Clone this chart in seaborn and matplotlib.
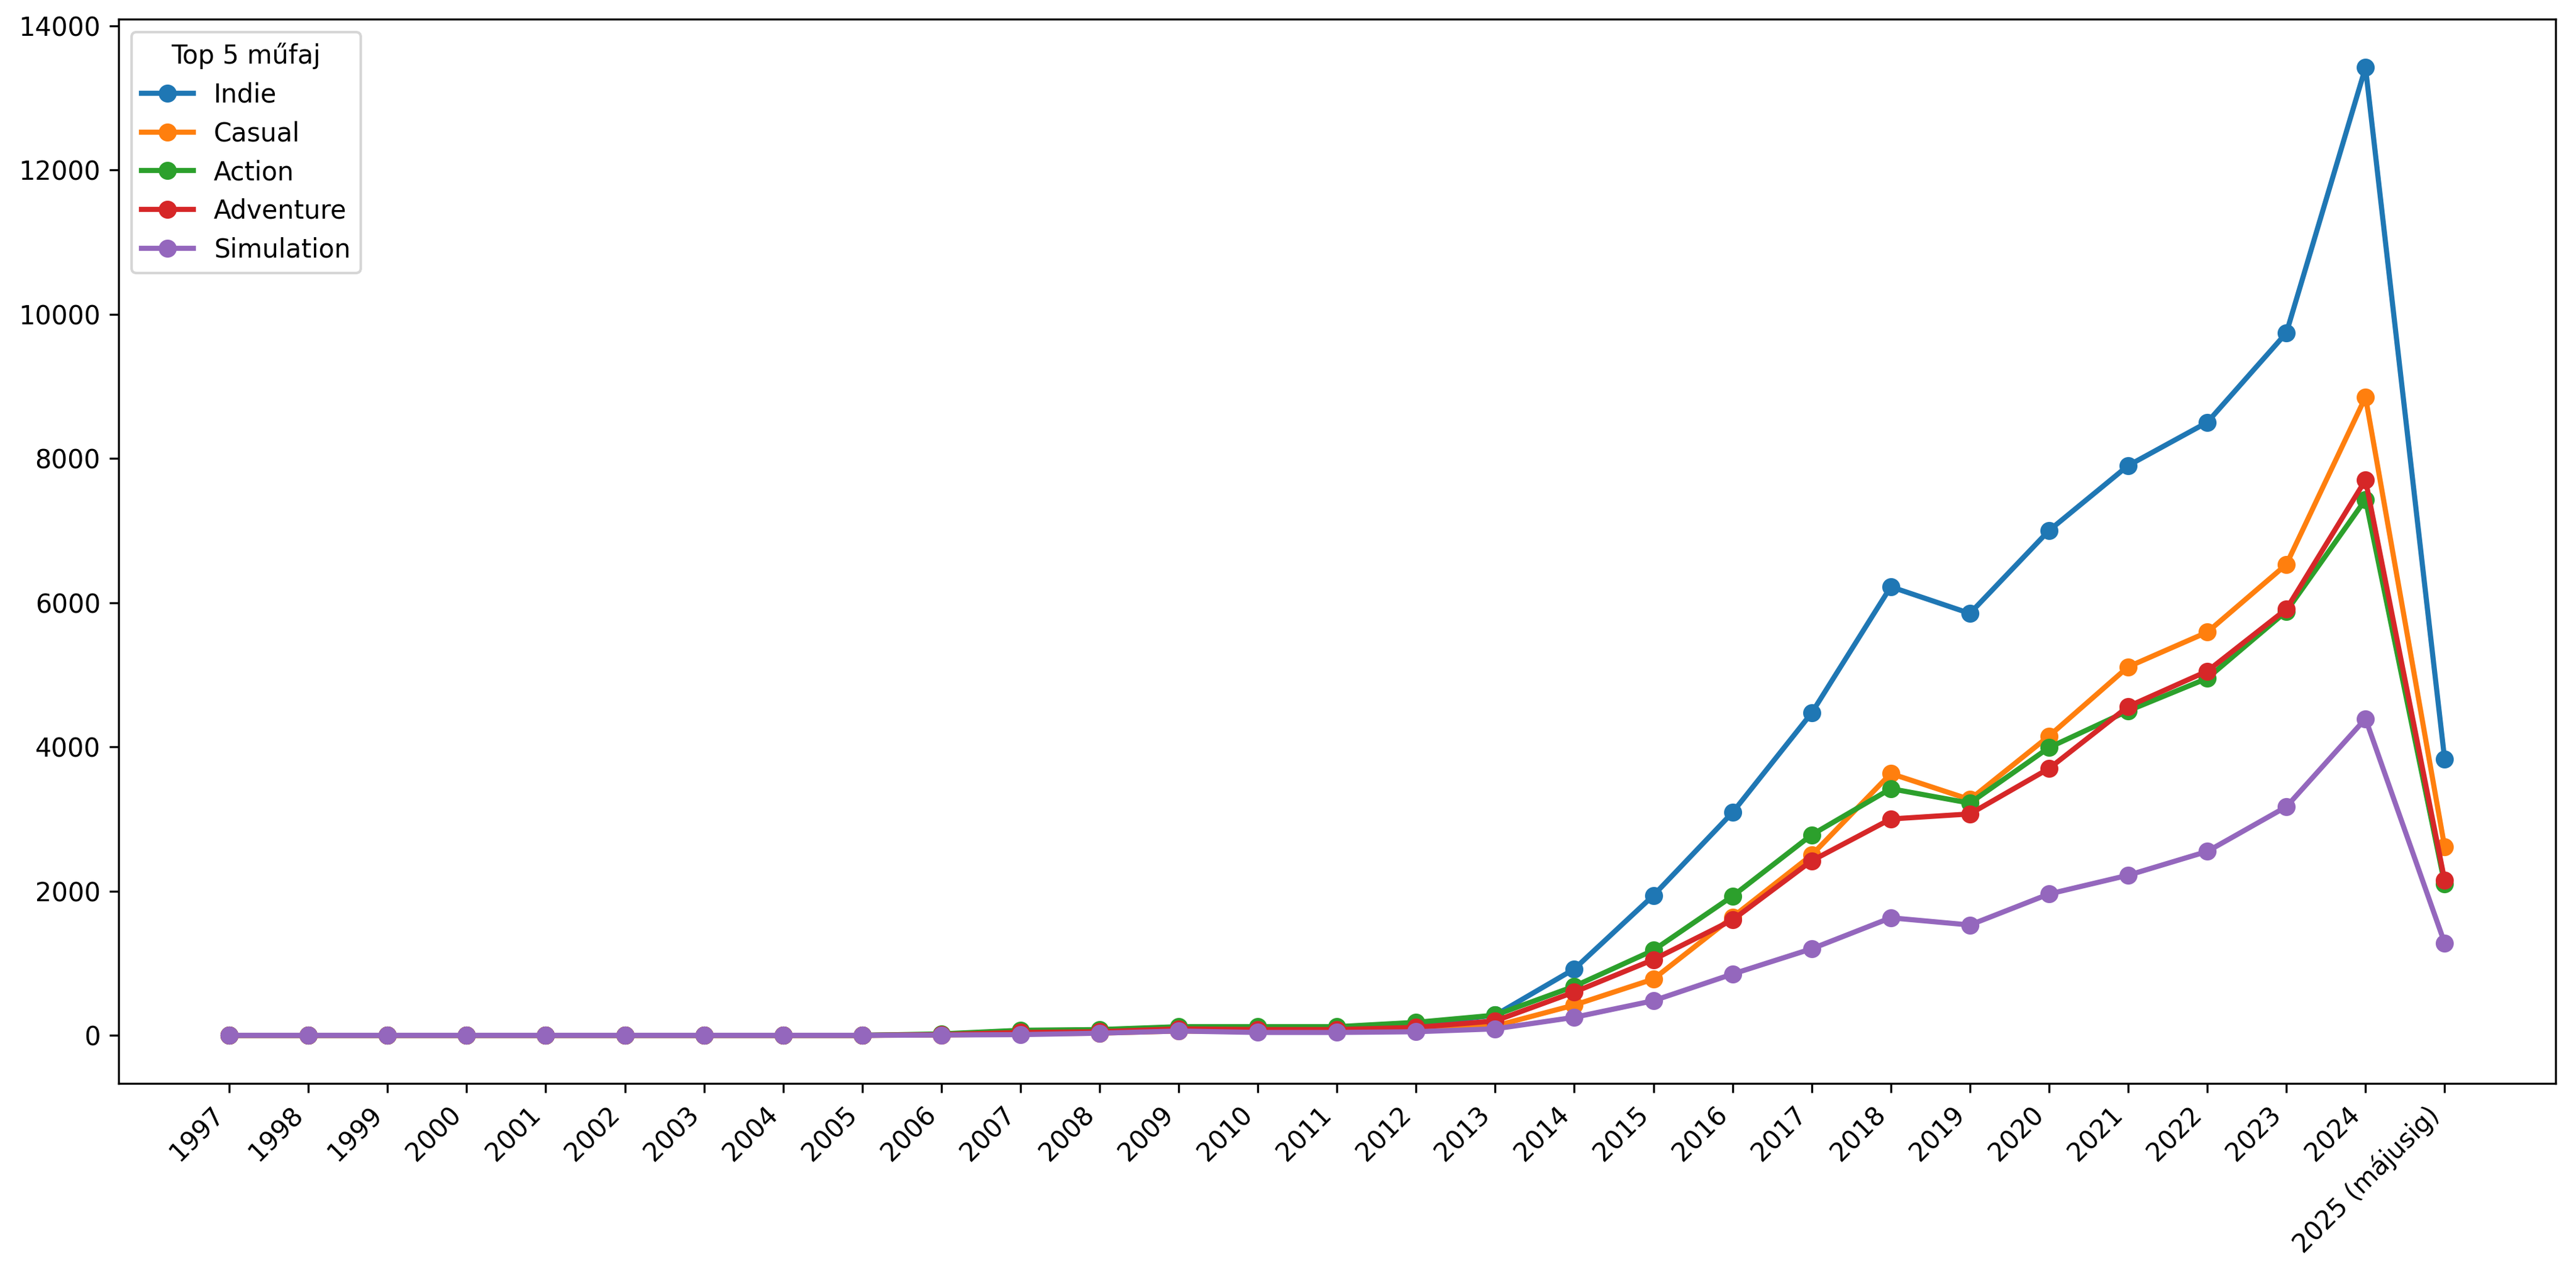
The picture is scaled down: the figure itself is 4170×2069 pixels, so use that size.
import matplotlib
matplotlib.use('Agg')
import matplotlib.pyplot as plt
import pandas as pd
import seaborn as sns

# évek (x tengely)
years = [str(y) for y in range(1997, 2025)] + ['2025 (májusig)']

# megjelenések száma műfajonként
indie = [0, 0, 0, 0, 0, 0, 0, 0, 0, 10, 50, 60, 100, 100, 100, 150, 280,
         920, 1940, 3090, 4470, 6220, 5850, 7000, 7900, 8500, 9740, 13420, 3830]
casual = [0, 0, 0, 0, 0, 0, 0, 0, 0, 5, 20, 30, 60, 50, 50, 70, 130,
          420, 780, 1640, 2500, 3630, 3270, 4150, 5110, 5590, 6530, 8850, 2610]
action = [0, 0, 0, 0, 0, 0, 0, 0, 0, 20, 70, 80, 120, 120, 120, 180, 280,
          680, 1180, 1930, 2780, 3420, 3220, 3990, 4500, 4950, 5880, 7430, 2100]
adventure = [0, 0, 0, 0, 0, 0, 0, 0, 0, 10, 40, 50, 90, 80, 80, 110, 200,
             600, 1050, 1600, 2420, 3000, 3070, 3700, 4560, 5050, 5910, 7700, 2150]
simulation = [0, 0, 0, 0, 0, 0, 0, 0, 0, 5, 10, 30, 60, 40, 40, 50, 90,
              250, 480, 850, 1200, 1630, 1530, 1960, 2220, 2550, 3170, 4390, 1280]

genres = ['Indie', 'Casual', 'Action', 'Adventure', 'Simulation']
series = [indie, casual, action, adventure, simulation]

# long formátum
rows = []
for g, vals in zip(genres, series):
    for yr, v in zip(years, vals):
        rows.append({'Év': yr, 'Műfaj': g, 'Darab': v})
df = pd.DataFrame(rows)

fig, ax = plt.subplots(figsize=(13.9, 6.897), dpi=300)
sns.lineplot(data=df, x='Év', y='Darab', hue='Műfaj', hue_order=genres,
             palette='tab10', marker='o', markersize=7, markeredgewidth=0,
             linewidth=2, ax=ax, sort=False)

ax.set_xlabel('')
ax.set_ylabel('')
plt.setp(ax.get_xticklabels(), rotation=45, ha='right')
ax.legend(title='Top 5 műfaj', loc='upper left')
plt.subplots_adjust(left=0.046, right=0.992, top=0.985, bottom=0.152)
plt.savefig('out.png', dpi=300)
